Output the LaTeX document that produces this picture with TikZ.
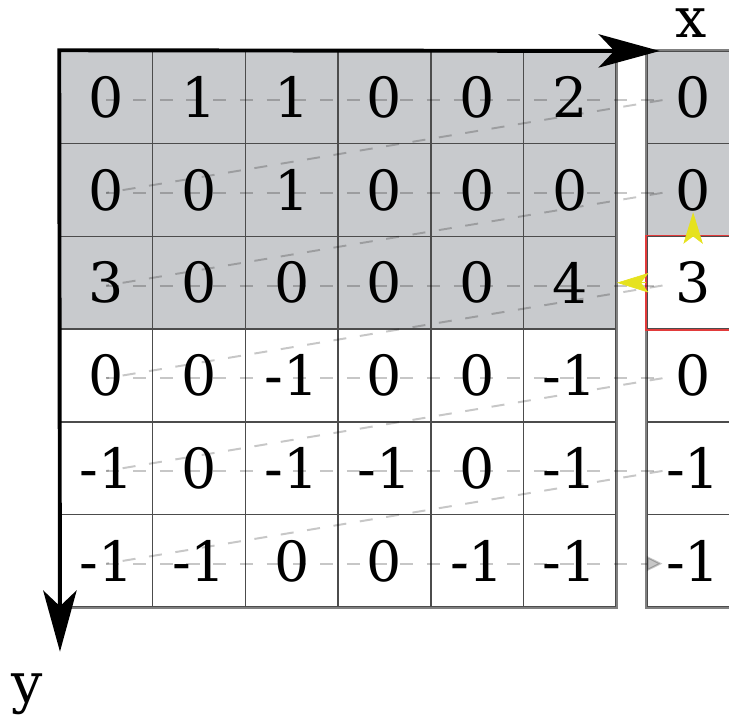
\documentclass[tikz,border=0pt]{standalone}
\usepackage{fontspec}
\setmainfont{DejaVu Serif}
\usepackage{xcolor}
\definecolor{grisVisto}{HTML}{C8CACD}
\definecolor{amarilloVecino}{HTML}{E6E21E}
\definecolor{rojoActual}{HTML}{E23B3B}
\usepackage{tikz}
\usetikzlibrary{arrows.meta,calc}
\begin{document}
\begin{tikzpicture}[x=1cm,y=1cm,
  celda/.style={draw=black!70,line width=0.45pt,minimum size=1cm,inner sep=0pt,
    font=\fontsize{17}{20}\selectfont},
  visto/.style={fill=grisVisto},
  libre/.style={},
  borde/.style={draw=black!50,line width=0.7pt},
  barrido/.style={black,opacity=0.22,line width=0.6pt,dash pattern=on 4pt off 4.2pt},
  vecino/.style={-{Stealth[length=0.34cm,width=0.21cm,inset=0.08cm]},
    amarilloVecino,line width=0.2pt},
  eje/.style={{Stealth[length=0.66cm,width=0.36cm,inset=0.17cm]}-{Stealth[length=0.66cm,width=0.36cm,inset=0.17cm]},
    line width=1.2pt},
  etiqueta/.style={font=\fontsize{17}{20}\selectfont,anchor=base}]
  \clip (-0.647,0.550) rectangle (7.217,-7.174);
  % imagen de etiquetas
  \foreach \r/\st/\fila in {1/visto/{0,1,1,0,0,2},2/visto/{0,0,1,0,0,0},
      3/visto/{3,0,0,0,0,4},4/libre/{0,0,-1,0,0,-1},
      5/libre/{-1,0,-1,-1,0,-1},6/libre/{-1,-1,0,0,-1,-1}}{
    \foreach \v [count=\c] in \fila
      \node[celda,\st] (c-\r-\c) at (\c-0.5,0.5-\r) {\v};
  }
  % columna de la derecha
  \foreach \r/\st/\v in {1/visto/0,2/visto/0,3/libre/3,4/libre/0,5/libre/-1,6/libre/-1}
    \node[celda,\st] (s-\r) at (6.83,0.5-\r) {\v};
  \draw[borde] (c-1-1.north west) rectangle (c-6-6.south east);
  \draw[borde] (s-1.north west) rectangle (s-6.south east);
  \draw[rojoActual,line width=0.5pt] (s-3.north west) rectangle (s-3.south east);
  % orden de barrido
  \foreach \r in {1,...,6}{
    \coordinate (a-\r) at ($(c-\r-1.center)+(0,-0.03)$);
    \coordinate (b-\r) at ($(s-\r.center)+(-0.33,-0.03)$);
  }
  \foreach \r in {1,...,5}{
    \pgfmathtruncatemacro\sig{\r+1}
    \draw[barrido] (a-\r) -- (b-\r);
    \draw[barrido] (b-\r) -- (a-\sig);
  }
  \draw[barrido,-{Triangle[length=0.17cm,width=0.16cm]}] (a-6) -- (b-6);
  % vecinos del pixel actual
  \draw[vecino] (s-3.west) -- (c-3-6.east);
  \draw[vecino,shorten >=0.24cm] (s-3.north) -- (s-2.center);
  % ejes
  \coordinate (origen) at (c-1-1.north west);
  \coordinate (xfin) at (6.47,0);
  \coordinate (yfin) at (0,-6.48);
  \draw[eje] (xfin) -- (origen) -- (yfin);
  \node[etiqueta] (xlab) at (6.81,0.15) {x};
  \node[etiqueta] (ylab) at (-0.356,-7.03) {y};
\end{tikzpicture}
\end{document}
